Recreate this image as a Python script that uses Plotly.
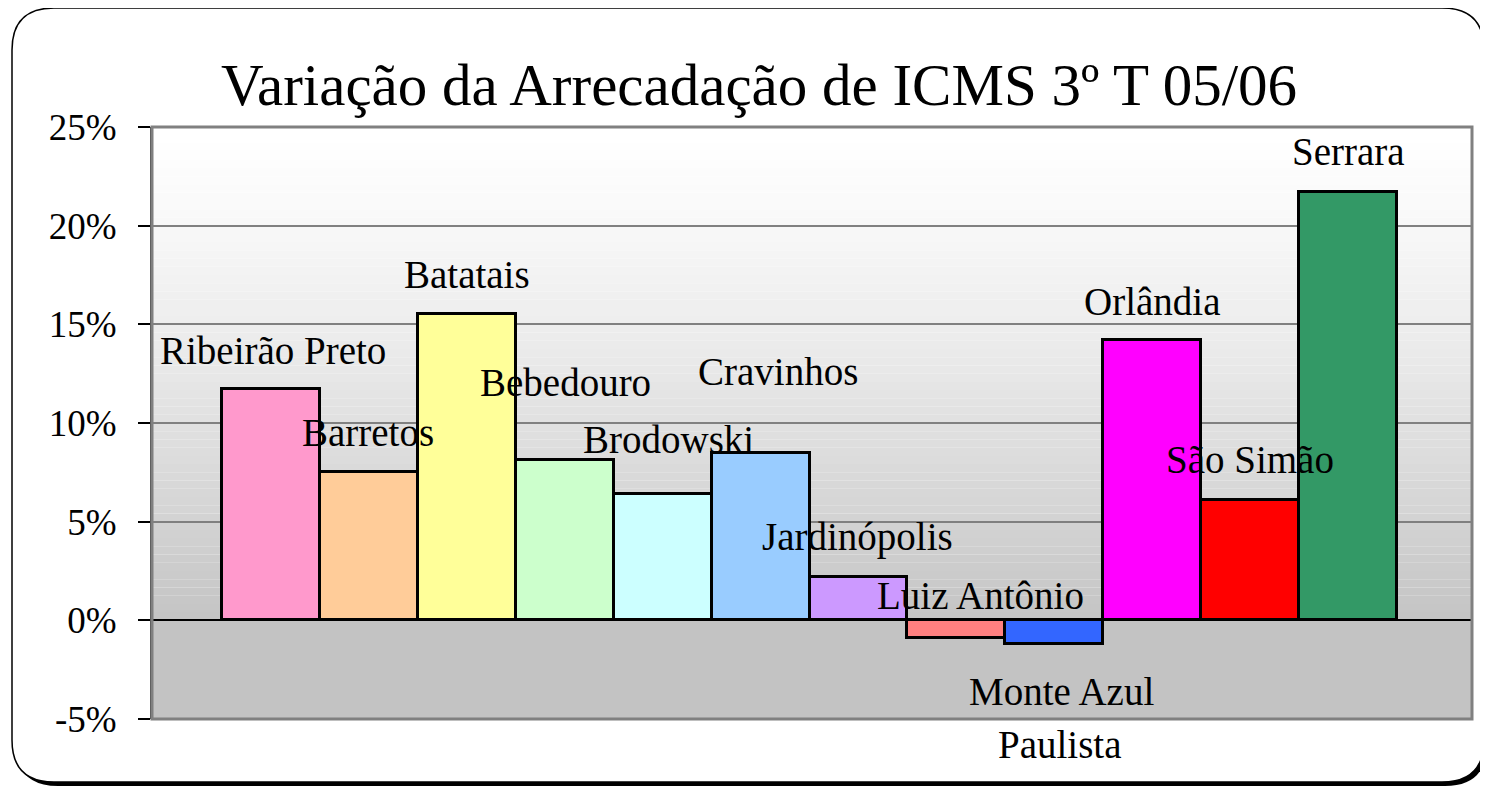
import numpy as np
import plotly.graph_objects as go

# ── data ──────────────────────────────────────────────────────────────────────
cities = ['Ribeirão Preto', 'Barretos', 'Batatais', 'Bebedouro', 'Brodowski',
          'Cravinhos', 'Jardinópolis', 'Luiz Antônio', 'Monte Azul',
          'Orlândia', 'São Simão', 'Serrara']
variation = [11.7, 7.5, 15.5, 8.1, 6.4, 8.5, 2.2, -0.9, -1.2, 14.2, 6.1, 21.7]
bar_colors = ['#FF99CC', '#FFCC99', '#FFFF99', '#CCFFCC', '#CCFFFF', '#99CCFF',
              '#CC99FF', '#FF8080', '#3366FF', '#FF00FF', '#FF0000', '#339966']

# extra label that sits under Monte Azul in the original
extra_label = 'Paulista'
extra_anchor = 'Monte Azul'

tick_vals = [-5, 0, 5, 10, 15, 20, 25]
tick_text = ['-5%', '0%', '5%', '10%', '15%', '20%', '25%']

# label offsets (px) relative to the bar end, as placed in the original
label_dx = [2, -1, 0, 1, 6, 17, -1, 24, 7, 0, 0, 0]
label_dy = [39, 40, 40, 78, 55, 81, 40, 43, -47, 39, 40, 41]

# page has an 8px body margin, so the figure is 8px smaller and shifted
OFF = 8
W, H = 1488 - OFF, 787 - OFF
L, R, T, B = 152 - OFF, 16, 127 - OFF, 68
FONT = 'Liberation Serif, Times New Roman, serif'


def px(x):
    return (x - OFF - L) / (W - L - R)


def py(y):
    return 1 - (y - OFF - T) / (H - T - B)


def rounded(x0, y0, x1, y1, r):
    return (f'M {px(x0 + r)},{py(y0)} L {px(x1 - r)},{py(y0)} '
            f'Q {px(x1)},{py(y0)} {px(x1)},{py(y0 + r)} '
            f'L {px(x1)},{py(y1 - r)} Q {px(x1)},{py(y1)} {px(x1 - r)},{py(y1)} '
            f'L {px(x0 + r)},{py(y1)} Q {px(x0)},{py(y1)} {px(x0)},{py(y1 - r)} '
            f'L {px(x0)},{py(y0 + r)} Q {px(x0)},{py(y0)} {px(x0 + r)},{py(y0)} Z')


fig = go.Figure()
fig.add_trace(go.Bar(
    x=cities, y=variation,
    marker=dict(color=bar_colors, line=dict(color='black', width=3)),
    hovertemplate='%{x}: %{y:.1f}%<extra></extra>',
))

shapes = []
# outer frame with shadow
shapes.append(dict(type='path', path=rounded(16, 12, 1487, 786, 42),
                   xref='paper', yref='paper', fillcolor='black',
                   line=dict(width=0), layer='below'))
shapes.append(dict(type='path', path=rounded(12, 8, 1484, 782, 42),
                   xref='paper', yref='paper', fillcolor='white',
                   line=dict(color='black', width=1.5), layer='below'))

# plot background: gradient white -> gray down to 0, flat gray below
n_strips = 60
edges = np.linspace(25, 0, n_strips + 1)
for i in range(n_strips):
    t = (i + 0.5) / n_strips
    g = int(round(255 - (255 - 196) * t ** 1.3))
    shapes.append(dict(type='rect', xref='paper', yref='y', x0=0, x1=1,
                       y0=edges[i + 1], y1=edges[i], layer='below',
                       fillcolor=f'rgb({g},{g},{g})', line=dict(width=0)))
shapes.append(dict(type='rect', xref='paper', yref='y', x0=0, x1=1,
                   y0=-5, y1=0, layer='below',
                   fillcolor='rgb(195,195,195)', line=dict(width=0)))
# plot frame
shapes.append(dict(type='rect', xref='paper', yref='paper', x0=0, x1=1,
                   y0=0, y1=1, line=dict(color='#808080', width=3), layer='above'))

annotations = []
for name, v, dx, dy in zip(cities, variation, label_dx, label_dy):
    annotations.append(dict(x=name, y=v, xref='x', yref='y', text=name,
                            showarrow=False, xshift=dx, yshift=dy,
                            xanchor='center', yanchor='middle',
                            font=dict(family=FONT, size=39, color='black')))
anchor_v = variation[cities.index(extra_anchor)]
annotations.append(dict(x=extra_anchor, y=anchor_v, xref='x', yref='y',
                        text=extra_label, showarrow=False, xshift=6, yshift=-100,
                        xanchor='center', yanchor='middle',
                        font=dict(family=FONT, size=39, color='black')))

fig.update_layout(
    width=W, height=H,
    margin=dict(l=L, r=R, t=T, b=B),
    paper_bgcolor='white',
    plot_bgcolor='rgba(0,0,0,0)',
    showlegend=False,
    bargap=0,
    title=dict(text='Variação da Arrecadação de ICMS 3º T 05/06',
               x=(759 - OFF) / W, xref='container', xanchor='center',
               y=1 - (84 - OFF) / H, yref='container', yanchor='middle',
               font=dict(family=FONT, size=59, color='black')),
    shapes=shapes,
    annotations=annotations,
    xaxis=dict(range=[-1.215, 12.266], showticklabels=False, showgrid=False,
               zeroline=False, ticks='', fixedrange=True),
    yaxis=dict(range=[-5, 25], tickvals=tick_vals, ticktext=tick_text,
               ticks='outside', ticklen=12, tickwidth=1.5, tickcolor='black',
               ticklabelstandoff=14,
               showgrid=True, gridcolor='#808080', gridwidth=1.5,
               zeroline=True, zerolinecolor='black', zerolinewidth=1.5,
               showline=True, linecolor='#404040', linewidth=2,
               tickfont=dict(family=FONT, size=37, color='black'),
               fixedrange=True),
)

fig.write_html('out.html')
